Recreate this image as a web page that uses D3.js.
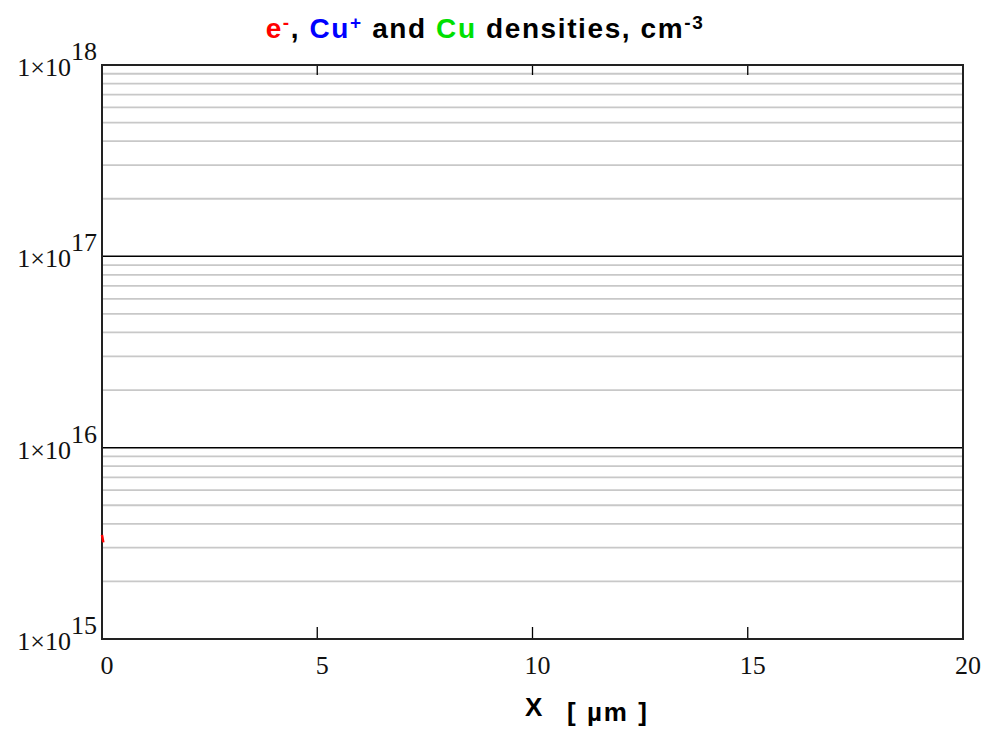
<!DOCTYPE html>
<html>
<head>
<meta charset="utf-8">
<script src="https://cdn.jsdelivr.net/npm/d3@7"></script>
<style>
  body { margin: 0; background: #fff; }
  svg { display: block; }
</style>
</head>
<body>
<div id="chart"></div>
<script>
// chart values
var xTicks = [0, 5, 10, 15, 20];
var yDecades = [15, 16, 17, 18];
var minorSteps = [2, 3, 4, 5, 6, 7, 8, 9];
// electron density, only a sliver is visible at the left edge
var eX = [0, 0.03];
var eY = [3.5e15, 3.2e15];

var svgWidth = 987;
var svgHeight = 735;

var svg = d3.select("#chart")
  .append("svg")
  .attr("width", svgWidth)
  .attr("height", svgHeight);

var xScale = d3.scaleLinear()
  .domain([0, 20])
  .range([102, 963]);

var yScale = d3.scaleLog()
  .domain([1e15, 1e18])
  .range([639, 65]);

// minor grid lines
var minorVals = [];
yDecades.slice(0, -1).forEach(function (d) {
  minorSteps.forEach(function (k) { minorVals.push(k * Math.pow(10, d)); });
});

svg.append("g").selectAll("line")
  .data(minorVals)
  .enter()
  .append("line")
  .attr("x1", xScale(0))
  .attr("x2", xScale(20))
  .attr("y1", d => yScale(d))
  .attr("y2", d => yScale(d))
  .attr("stroke", "#c8c8c8")
  .attr("stroke-width", 1.8);

// decade lines
svg.append("g").selectAll("line")
  .data(yDecades.slice(1, -1))
  .enter()
  .append("line")
  .attr("x1", xScale(0))
  .attr("x2", xScale(20))
  .attr("y1", d => yScale(Math.pow(10, d)))
  .attr("y2", d => yScale(Math.pow(10, d)))
  .attr("stroke", "#000")
  .attr("stroke-width", 1.5);

// ticks on top and bottom
var inner = xTicks.slice(1, -1);
svg.append("g").selectAll("line")
  .data(inner)
  .enter()
  .append("line")
  .attr("x1", d => xScale(d))
  .attr("x2", d => xScale(d))
  .attr("y1", yScale(1e18))
  .attr("y2", yScale(1e18) + 10)
  .attr("stroke", "#000")
  .attr("stroke-width", 1.3);
svg.append("g").selectAll("line")
  .data(inner)
  .enter()
  .append("line")
  .attr("x1", d => xScale(d))
  .attr("x2", d => xScale(d))
  .attr("y1", yScale(1e15))
  .attr("y2", yScale(1e15) - 12)
  .attr("stroke", "#000")
  .attr("stroke-width", 1.3);

// frame
svg.append("rect")
  .attr("x", xScale(0))
  .attr("y", yScale(1e18))
  .attr("width", xScale(20) - xScale(0))
  .attr("height", yScale(1e15) - yScale(1e18))
  .attr("fill", "none")
  .attr("stroke", "#222")
  .attr("stroke-width", 2);

// e- series (drawn over the frame)
var line = d3.line()
  .x(d => xScale(d[0]))
  .y(d => yScale(d[1]));
svg.append("path")
  .datum(d3.zip(eX, eY))
  .attr("d", line)
  .attr("fill", "none")
  .attr("stroke", "#ff0000")
  .attr("stroke-width", 2.5);

// y labels
var yLab = svg.append("g").selectAll("text")
  .data(yDecades)
  .enter()
  .append("text")
  .attr("x", 97)
  .attr("y", d => yScale(Math.pow(10, d)) + 11)
  .attr("text-anchor", "end")
  .attr("font-family", "Liberation Serif, Times New Roman, serif")
  .attr("font-size", 26)
  .attr("fill", "#111");
yLab.append("tspan").text("1\u00d710");
yLab.append("tspan").attr("dy", -16).text(d => d);

// x labels
svg.append("g").selectAll("text")
  .data(xTicks)
  .enter()
  .append("text")
  .attr("x", d => xScale(d) + 5)
  .attr("y", 674)
  .attr("text-anchor", "middle")
  .attr("font-family", "Liberation Serif, Times New Roman, serif")
  .attr("font-size", 26)
  .attr("fill", "#111")
  .text(d => d);

// x axis title
svg.append("text")
  .attr("x", 525)
  .attr("y", 716)
  .attr("font-family", "Liberation Sans, Arial, sans-serif")
  .attr("font-weight", "bold")
  .attr("font-size", 26)
  .text("X");
svg.append("text")
  .attr("x", 567)
  .attr("y", 721)
  .attr("font-family", "Liberation Sans, Arial, sans-serif")
  .attr("font-weight", "bold")
  .attr("font-size", 26)
  .attr("letter-spacing", 2)
  .text("[ \u00b5m ]");

// title
var title = svg.append("text")
  .attr("x", 485)
  .attr("y", 38)
  .attr("text-anchor", "middle")
  .attr("font-family", "Liberation Sans, Arial, sans-serif")
  .attr("font-weight", "bold")
  .attr("font-size", 28)
  .attr("letter-spacing", 1.6);
var parts = [
  ["e", "#ff0000", false], ["-", "#ff0000", true], [", ", "#000", false],
  ["Cu", "#0000ff", false], ["+", "#0000ff", true], [" and ", "#000", false],
  ["Cu", "#00e000", false], [" densities, cm", "#000", false], ["-3", "#000", true]
];
parts.forEach(function (p) {
  var t = title.append("tspan").attr("fill", p[1]).text(p[0]);
  if (p[2]) t.attr("font-size", 19).attr("baseline-shift", "50%");
});
</script>
</body>
</html>
